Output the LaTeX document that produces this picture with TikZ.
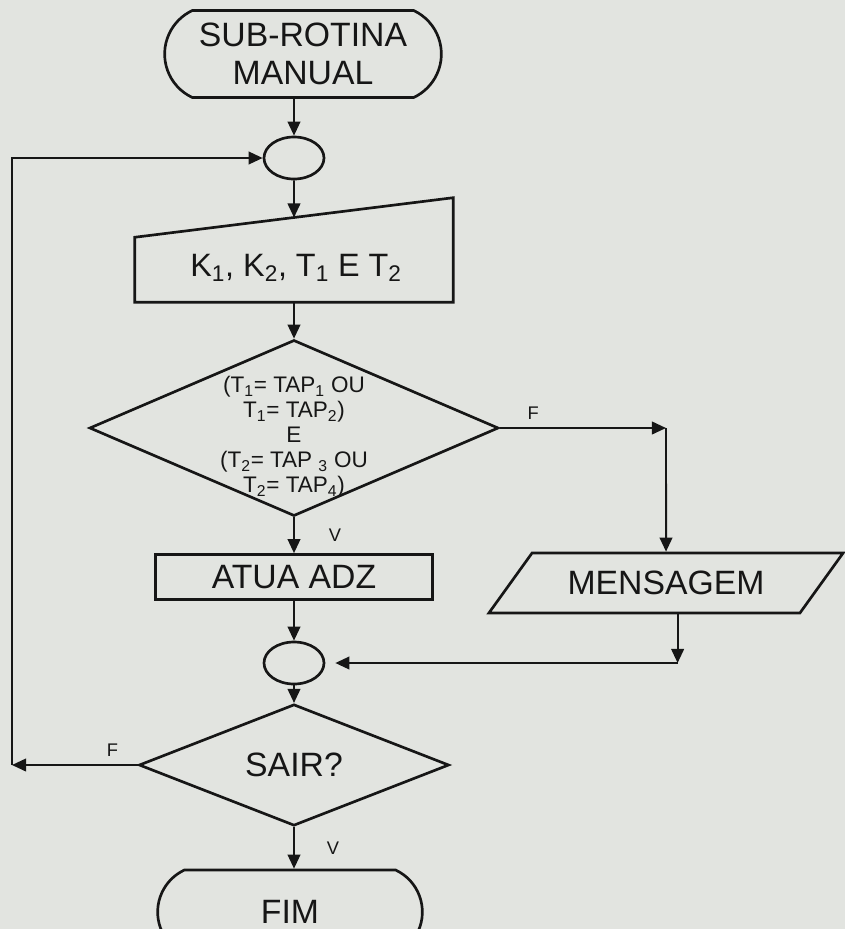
\documentclass[tikz,border=0pt]{standalone}
\usepackage{fontspec}
\setmainfont{Liberation Sans}
\usepackage{xcolor}
\usetikzlibrary{shapes,arrows.meta,positioning,calc}
\definecolor{paper}{HTML}{E2E4E0}
\definecolor{ink}{HTML}{161616}

\begin{document}
\begin{tikzpicture}[x=0.025cm, y=-0.025cm,
    every node/.style={text=ink},
    outline/.style={draw=ink, line width=1.9pt},
    bigtext/.style={font=\fontsize{24}{26.5}\selectfont, align=center},
    smalltext/.style={font=\fontsize{16}{17.8}\selectfont, align=center, inner sep=0},
    branch/.style={font=\fontsize{13}{15}\selectfont, inner sep=0},
    terminal/.style={outline, bigtext, rounded rectangle, rounded rectangle arc length=130, minimum height=2.175cm},
    joint/.style={outline, ellipse, minimum width=1.5cm, minimum height=1.05cm, inner sep=0},
    decision/.style={outline, diamond, inner sep=0},
    process/.style={outline, bigtext, rectangle, minimum width=6.925cm, minimum height=1.125cm},
    io/.style={outline, bigtext, trapezium, trapezium left angle=45, trapezium right angle=135,
        trapezium stretches=true, minimum width=8.875cm, minimum height=1.5cm},
    flow/.style={draw=ink, line width=1.4pt, -{Triangle[length=10pt,width=9pt]}}]

    % page
    \fill[paper] (0,0) rectangle (845,929);
    \useasboundingbox (0,0) rectangle (845,929);

    % start and loop entry
    \node[terminal, minimum width=7.15cm] (start) at (303,54) {SUB-ROTINA\\MANUAL};
    \node[joint] (join1) at (294,158) {};
    \draw[flow] (start.south -| join1) -- (join1);

    % manual input with sloped top
    \node[minimum width=7.95cm, minimum height=2.6cm, inner sep=0] (input) at (294,250) {};
    \coordinate (slopeL) at ([yshift=1.625cm]input.south west);
    \draw[outline] (input.south west) -- (input.south east) -- (input.north east) -- (slopeL) -- cycle;
    \node[bigtext, font=\fontsize{23}{26}\selectfont] (inputtext) at (296,268) {K\textsubscript{1}, K\textsubscript{2}, T\textsubscript{1} E T\textsubscript{2}};
    \draw[flow] (join1) -- (intersection of join1.south--input.center and slopeL--input.north east);

    % tap test
    \node[decision, minimum width=10.225cm, minimum height=4.4cm] (cond) at (294,428) {};
    \node[smalltext] (condtext) at (294,437) {(T\textsubscript{1}= TAP\textsubscript{1} OU\\T\textsubscript{1}= TAP\textsubscript{2})\\E\\(T\textsubscript{2}= TAP \textsubscript{3} OU\\T\textsubscript{2}= TAP\textsubscript{4})};
    \draw[flow] (input.south) -- (cond.north);

    % true branch
    \node[process] (atua) at (294,577) {ATUA ADZ};
    \draw[flow] (cond.south) -- (atua.north) node[branch, midway, right=0.85cm] {V};

    % false branch
    \node[io] (msg) at (666,583) {MENSAGEM};
    \coordinate (fturn) at (666,428);
    \draw[flow] (cond.east) -- (fturn) node[branch, pos=0.2, above=0.2cm] {F};
    \draw[flow] (fturn) -- (msg.north);

    % merge
    \node[joint] (join2) at (294,663) {};
    \draw[flow] (atua.south) -- (join2);
    \coordinate (mdrop) at ([xshift=0.29cm]msg.south);
    \draw[flow] (mdrop) -- (mdrop |- join2);
    \draw[flow, shorten >=0.25cm] (mdrop |- join2) -- (join2.east);

    % exit test
    \node[decision, bigtext, minimum width=7.75cm, minimum height=2.15cm] (quit) at (294,765) {SAIR?};
    \draw[flow] (join2) -- (quit);
    \coordinate (loopdown) at (12,765);
    \draw[flow] (quit.west) -- (loopdown) node[branch, pos=0.2, above=0.2cm] {F};
    \draw[flow] (loopdown) |- (join1.west);

    % end
    \node[terminal, minimum width=6.85cm, minimum height=2.1cm] (fim) at (290,912) {FIM};
    \draw[flow] (quit.south) -- (quit.south |- fim.north) node[branch, midway, right=0.8cm] {V};

\end{tikzpicture}
\end{document}
